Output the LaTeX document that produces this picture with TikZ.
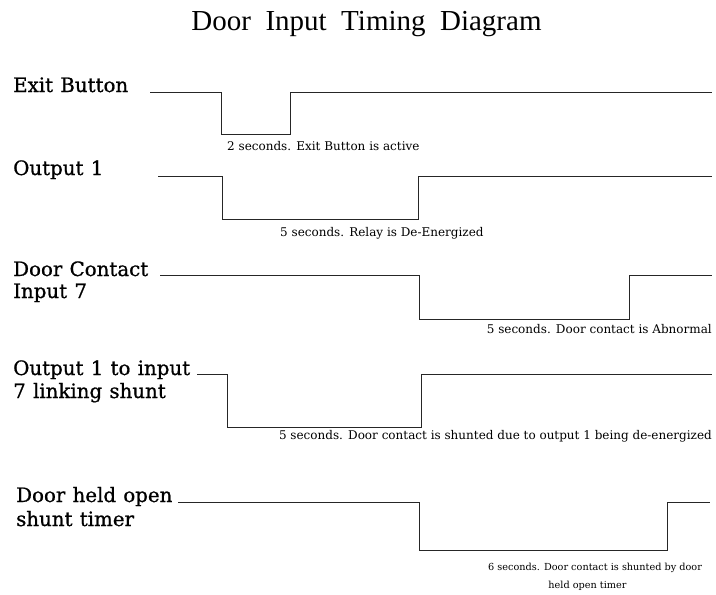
\documentclass[tikz,border=0pt]{standalone}
\usepackage{fontspec}
\setmainfont{DejaVu Serif}
\newfontfamily\titlefont[WordSpace=2]{Liberation Serif}
\newfontfamily\labelfont[FakeBold=0.8, WordSpace=1.15]{DejaVu Serif}
\tikzset{
  wave/.style={line width=1pt, draw=black!85, line join=miter},
  sig/.style={font=\labelfont\fontsize{19.8}{23}\selectfont, inner sep=0pt, anchor=base west},
  note/.style={font=\fontsize{12}{16}\selectfont, inner sep=0pt},
  ttl/.style={font=\titlefont\fontsize{29}{30}\selectfont, inner sep=0pt, anchor=base}
}
\begin{document}
\begin{tikzpicture}[x=1pt,y=-1pt]
\useasboundingbox (0,0) rectangle (716,595);
% title
\node[ttl] (title) at (366.5,30) {Door Input Timing Diagram};
% Exit Button
\node[sig] (exitlbl) at (13,92) {Exit Button};
\draw[wave] (150,92) -- (221,92) -- (221,134) -- (290,134) -- (290,92) -- (712,92);
\node[note, anchor=base west] (exitnote) at (227,150) {2 seconds. Exit Button is active};
% Output 1
\node[sig] (outlbl) at (13,175) {Output 1};
\draw[wave] (158,176) -- (222,176) -- (222,219) -- (418,219) -- (418,176) -- (712,176);
\node[note, anchor=base west] (outnote) at (280,236) {5 seconds. Relay is De-Energized};
% Door Contact Input 7
\node[sig] (dclblA) at (13,276) {Door Contact};
\node[sig] (dclblB) at (13,298) {Input 7};
\draw[wave] (160,275) -- (419,275) -- (419,319) -- (629,319) -- (629,275) -- (712,275);
\node[note, anchor=base east] (dcnote) at (712,333) {5 seconds. Door contact is Abnormal};
% Output 1 to input 7 linking shunt
\node[sig] (lslblA) at (13,375) {Output 1 to input};
\node[sig] (lslblB) at (13,398) {7 linking shunt};
\draw[wave] (197,374) -- (227,374) -- (227,427) -- (421,427) -- (421,374) -- (712,374);
\node[note, anchor=base east] (lsnote) at (712,439) {5 seconds. Door contact is shunted due to output 1 being de-energized};
% Door held open shunt timer
\node[sig] (dhlblA) at (16,502) {Door held open};
\node[sig] (dhlblB) at (16,526) {shunt timer};
\draw[wave] (178,502) -- (419,502) -- (419,550) -- (667,550) -- (667,502) -- (710,502);
\node[note, font=\fontsize{9.7}{18}\selectfont, anchor=base west] (dhnoteA) at (488,570) {6 seconds. Door contact is shunted by door};
\node[note, font=\fontsize{9.7}{18}\selectfont, anchor=base] (dhnoteB) at (587.5,588) {held open timer};
\end{tikzpicture}
\end{document}
